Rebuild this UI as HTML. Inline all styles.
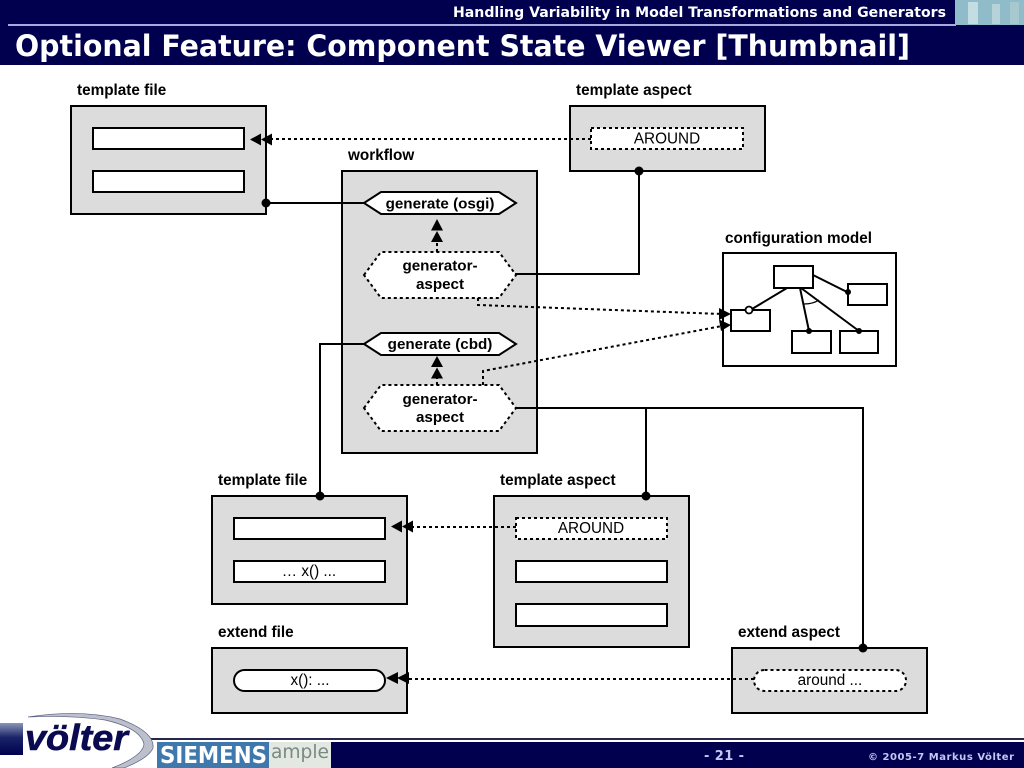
<!DOCTYPE html>
<html><head><meta charset="utf-8"><style>
html,body{margin:0;padding:0;background:#fff}
svg{display:block}
.l{font:bold 15.3px "Liberation Sans",sans-serif;fill:#000}
.c{font:15.3px "Liberation Sans",sans-serif;fill:#000;text-anchor:middle}
.b{font:bold 15.2px "Liberation Sans",sans-serif;fill:#000;text-anchor:middle}
.box{fill:#dcdcdc;stroke:#000;stroke-width:2}
.w{fill:#fff;stroke:#000;stroke-width:2}
.wd{fill:#fff;stroke:#000;stroke-width:2;stroke-dasharray:3 3}
.ln{fill:none;stroke:#000;stroke-width:2}
.dt{fill:none;stroke:#000;stroke-width:2;stroke-dasharray:3 3}
</style></head><body>
<svg width="1024" height="768" viewBox="0 0 1024 768" xmlns="http://www.w3.org/2000/svg">
<defs><linearGradient id="g" x1="0" y1="0" x2="0" y2="1"><stop offset="0" stop-color="#8a96b8"/><stop offset=".45" stop-color="#1a2468"/><stop offset="1" stop-color="#00004f"/></linearGradient></defs>
<rect x="0" y="0" width="1024" height="65" fill="#00004f"/>
<rect x="8" y="24" width="948" height="2" fill="#a9a9e0"/>
<rect x="955" y="0" width="69" height="25" fill="#8fbcc8"/>
<rect x="968" y="2" width="10" height="22" fill="#c4dde2"/><rect x="992" y="4" width="8" height="20" fill="#b6d3da"/><rect x="1010" y="2" width="9" height="22" fill="#a8c8d0"/>
<text x="453" y="17" textLength="493" lengthAdjust="spacingAndGlyphs" style="font:bold 14px 'DejaVu Sans',sans-serif" fill="#fff">Handling Variability in Model Transformations and Generators</text>
<text x="15" y="56" textLength="895" lengthAdjust="spacingAndGlyphs" style="font:bold 29px 'DejaVu Sans',sans-serif" fill="#fff">Optional Feature: Component State Viewer [Thumbnail]</text>

<!-- boxes -->
<rect class="box" x="71" y="106" width="195" height="108"/>
<rect class="w" x="93" y="128" width="151" height="21"/>
<rect class="w" x="93" y="171" width="151" height="21"/>
<rect class="box" x="570" y="106" width="195" height="65"/>
<rect class="wd" x="591" y="128" width="152" height="21"/>
<rect class="box" x="342" y="171" width="195" height="282"/>
<rect class="w" x="723" y="253" width="173" height="113"/>
<rect class="box" x="212" y="496" width="195" height="108"/>
<rect class="w" x="234" y="518" width="151" height="21"/>
<rect class="w" x="234" y="561" width="151" height="21"/>
<rect class="box" x="494" y="496" width="195" height="151"/>
<rect class="wd" x="516" y="518" width="151" height="21"/>
<rect class="w" x="516" y="561" width="151" height="21"/>
<rect class="w" x="516" y="604" width="151" height="22"/>
<rect class="box" x="212" y="648" width="195" height="65"/>
<rect class="w" x="234" y="670" width="151" height="21" rx="10.5"/>
<rect class="box" x="732" y="648" width="195" height="65"/>
<rect class="wd" x="754" y="670" width="152" height="21" rx="10.5"/>

<!-- connectors -->
<path class="ln" d="M266 203H364"/><circle cx="266" cy="203" r="4.5"/>
<path class="ln" d="M515 274H639V171"/><circle cx="639" cy="171" r="4.5"/>
<path class="ln" d="M364 344H320V496"/><circle cx="320" cy="496" r="4.5"/>
<path class="ln" d="M515 408H863V648M646 408V496"/><circle cx="646" cy="496" r="4.5"/><circle cx="863" cy="648" r="4.5"/>

<!-- hexagons -->
<polygon class="w" points="364,203 381,192 499,192 516,203 499,214 381,214"/>
<polygon class="wd" points="364,275 381,252 499,252 516,275 499,298 381,298"/>
<polygon class="w" points="364,344 381,333 499,333 516,344 499,355 381,355"/>
<polygon class="wd" points="364,408 381,385 499,385 516,408 499,431 381,431"/>

<!-- dotted -->
<path class="dt" d="M591 139H262"/>
<path d="M250 139.500L261 133.500V145.500Z"/><path d="M261 139.500L272 133.500V145.500Z"/>
<path class="dt" d="M437 252V240"/>
<path d="M437 219L443 230.500H431Z"/><path d="M437 231L443 242H431Z"/>
<path class="dt" d="M437 385V376"/>
<path d="M437 356L443 367H431Z"/><path d="M437 367.500L443 378.500H431Z"/>
<path class="dt" d="M478 298V305L722 314"/>
<path d="M731 314L719 308V320Z"/>
<path class="dt" d="M483 385V371L722 326"/>
<path d="M731 325L719 319.500L721 331Z"/>
<path class="dt" d="M516 527H410"/>
<path d="M391 526.500L402 520.500V532.500Z"/><path d="M402 526.500L413 520.500V532.500Z"/>
<path class="dt" d="M754 679H408"/>
<path d="M386 678L398 672V684Z"/><path d="M397 678L409 672V684Z"/>

<!-- config model -->
<rect class="w" x="731" y="310" width="39" height="21"/>
<rect class="w" x="774" y="266" width="39" height="22"/>
<rect class="w" x="848" y="284" width="39" height="21"/>
<rect class="w" x="792" y="331" width="39" height="22"/>
<rect class="w" x="840" y="331" width="38" height="22"/>
<path class="ln" d="M752 309L787 288M813 275L847 292M800 288L809 331M801 288L859 331"/>
<path d="M804 304Q813 304 819 300" fill="none" stroke="#000" stroke-width="1.200"/>
<circle cx="749" cy="310" r="3.500" fill="#fff" stroke="#000" stroke-width="1.800"/>
<circle cx="848" cy="292" r="3"/><circle cx="809" cy="331" r="3"/><circle cx="859" cy="331" r="3"/>

<!-- labels -->
<text class="l" x="77" y="95">template file</text>
<text class="l" x="576" y="95">template aspect</text>
<text class="l" x="348" y="160">workflow</text>
<text class="l" x="725" y="243">configuration model</text>
<text class="l" x="218" y="485">template file</text>
<text class="l" x="500" y="485">template aspect</text>
<text class="l" x="218" y="637">extend file</text>
<text class="l" x="738" y="637">extend aspect</text>
<text class="c" x="667" y="143.500">AROUND</text>
<text class="b" x="440" y="208.500">generate (osgi)</text>
<text class="b" x="440" y="270.500">generator-</text>
<text class="b" x="440" y="289">aspect</text>
<text class="b" x="440" y="349">generate (cbd)</text>
<text class="b" x="440" y="404">generator-</text>
<text class="b" x="440" y="422">aspect</text>
<text class="c" x="591" y="533">AROUND</text>
<text class="c" x="309" y="576">… x() ...</text>
<text class="c" x="310" y="685">x(): ...</text>
<text class="c" x="830" y="685">around ...</text>

<!-- footer -->
<rect x="150" y="738" width="874" height="2" fill="#26264f"/>
<rect x="157" y="742" width="867" height="26" fill="#00004f"/>
<rect x="157" y="742" width="112" height="26" fill="#3f78ad"/>
<rect x="269" y="742" width="62" height="26" fill="#e3e8e2"/>
<text x="160" y="763" textLength="107" lengthAdjust="spacingAndGlyphs" style="font:bold 23px 'DejaVu Sans',sans-serif" fill="#fff">SIEMENS</text>
<text x="271" y="758" textLength="58" lengthAdjust="spacingAndGlyphs" style="font:19px 'DejaVu Sans',sans-serif" fill="#7a8a80">ample</text>
<text x="704" y="760" textLength="40" style="font:bold 13px 'DejaVu Sans',sans-serif" fill="#c6c6f2">- 21 -</text>
<text x="868" y="760" textLength="146" style="font:bold 10px 'DejaVu Sans',sans-serif" fill="#c6c6f2">© 2005-7  Markus Völter</text>

<!-- logo -->
<path d="M0 716Q60 708 112 716Q150 726 153 745Q150 762 100 768H0Z" fill="#fff"/>
<path d="M28 717Q80 709 120 719Q155 732 153 748Q149 758 124 768H112Q143 756 144 744Q140 728 105 720Q70 715 28 717Z" fill="#bcc0cc" stroke="#5a6080" stroke-width=".7"/>
<rect x="0" y="723" width="23" height="32" fill="url(#g)"/>
<text x="25" y="750" textLength="103" lengthAdjust="spacingAndGlyphs" style="font:italic bold 36px 'Liberation Sans',sans-serif" fill="#0a0a50" stroke="#0a0a50" stroke-width=".6">völter</text>
</svg>
</body></html>
